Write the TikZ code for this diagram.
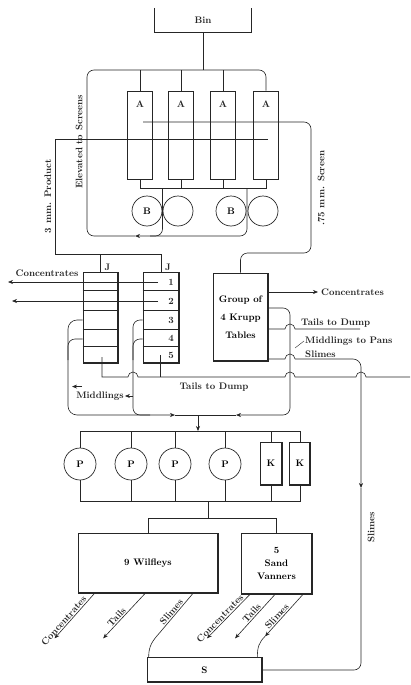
\documentclass[tikz,border=0pt]{standalone}
\usepackage{tikz}
\usetikzlibrary{arrows.meta,positioning,calc}
\definecolor{MillInk}{HTML}{262626}
\newcommand\millfont{\fontsize{9.5}{11}\selectfont\bfseries}
\tikzset{
  tank/.style={minimum width=97pt, minimum height=24pt, font=\millfont, text=MillInk},
  screen/.style={draw=MillInk, line width=0.8pt, minimum width=25pt, minimum height=88pt},
  roll/.style={circle, draw=MillInk, line width=0.7pt, minimum size=30pt, inner sep=0pt,
    font=\millfont},
  pan/.style={circle, draw=MillInk, line width=0.7pt, minimum size=32pt, inner sep=0pt,
    font=\millfont},
  unit/.style={draw=MillInk, line width=0.7pt, align=center, font=\millfont,
    path picture={\draw[MillInk, line width=2.2pt] (path picture bounding box.north east)
      -- (path picture bounding box.south east) -- (path picture bounding box.south west);}},
  jig/.style={unit, minimum width=35pt, minimum height=91pt},
  pipe/.style={draw=MillInk, line width=0.6pt},
  roundpipe/.style={pipe, rounded corners=7pt},
  flow/.style={pipe, -{Stealth[length=5pt, width=4pt]}},
  lbl/.style={font=\millfont, inner sep=1pt, text=MillInk}
}

\begin{document}
\begin{tikzpicture}[x=1pt, y=-1pt]
  \useasboundingbox (0,0) rectangle (410,685);

  % bin, screens and rolls
  \node[tank] (bin) at (203,20) {Bin};
  \draw[pipe] (bin.north west) |- (bin.south east) -- (bin.north east);
  \foreach \n/\x in {1/140,2/181,3/223,4/266}
    \node[screen, label={[lbl, anchor=north, yshift=-9pt]north:A}] (a\n) at (\x,135) {};
  \node[roll] (b1) at (147,211) {B};
  \node[roll] (b2) at (178,211) {};
  \node[roll] (b3) at (231,211) {B};
  \node[roll] (b4) at (263,211) {};

  \coordinate (feed) at (203,70);
  \coordinate (drop1) at (162.5,188);
  \coordinate (drop2) at (247,188);
  \coordinate (elev) at (135,236);
  \draw[pipe] (bin.south) -- (feed);
  \foreach \n in {1,2,3}
    \draw[pipe] (a\n.north) -- (a\n.north |- feed);
  \draw[pipe] (a1.south) |- (a4.south |- drop1) -- (a4.south);
  \draw[pipe] (a2.south) -- (a2.south |- drop1);
  \draw[pipe] (a3.south) -- (a3.south |- drop1);
  \draw[roundpipe] (drop1) -- (162.5,236) -- (150,236);
  \draw[flow, rounded corners=7pt] (drop2) -- (247,236) -- (elev);
  \draw[roundpipe] (elev) -- (87,236) -- (87,70) -- (266,70) -- (a4.north);
  \node[lbl, rotate=90] (lelev) at (79,142) {Elevated to Screens};

  % jigs and krupp tables
  \node[jig] (j1) at (100.5,317.5) {};
  \node[jig, minimum width=36pt] (j2) at (161,317.5) {};
  \node[lbl, above right=0pt and 3pt of j1.north] {J};
  \node[lbl, above right=0pt and 3pt of j2.north] {J};
  \foreach \j in {j1,j2}
    \foreach \y in {290,310,329,346}
      \draw[pipe] (\j.west |- 0,\y) -- (\j.east |- 0,\y);
  \foreach \n/\y in {1/282,2/301,3/320,4/338,5/355}
    \node[lbl] (num\n) at (171,\y) {\n};
  \node[unit, minimum width=55pt, minimum height=88pt] (krupp) at (240.5,317)
    {Group of\\[7pt]4 Krupp\\[7pt]Tables};

  \coordinate (under) at (268,139);
  \draw[pipe] (under) -- (55,139) -- (55,254) -| (j2.north);
  \draw[pipe] (j1.north) -- (j1.north |- 0,254);
  \node[lbl, rotate=90] (lprod) at (48,196) {3 mm. Product};

  \coordinate (fine) at (143,122);
  \draw[roundpipe] (fine) -- (311,122) -- (311,253) -- (krupp.north |- 0,253) -- (krupp.north);
  \node[lbl, rotate=90] (lfine) at (321,188) {.75 mm. Screen};

  % jig products
  \coordinate (jc1) at (158,282);
  \coordinate (jc2) at (158,301);
  \draw[flow] (jc1) -- (8,282);
  \draw[flow] (jc2) -- (12,301);
  \node[lbl] (jconc) at (47,273) {Concentrates};

  \coordinate (mid) at (175,415);
  \coordinate (mdrop) at (198,415);
  \coordinate (km) at (236,415);
  \draw[flow, rounded corners=9pt] (j1.west |- 0,320) -- (68,320) -- (68,415) -- (mid);
  \draw[roundpipe] (j1.west |- 0,339) -- (68,339) -- (68,360);
  \draw[roundpipe] (j2.west |- 0,320) -- (133,320) -- (133,415) -- (150,415);
  \draw[roundpipe] (j2.west |- 0,339) -- (133,339) -- (133,360);
  \draw[pipe] (mid) -- (km);
  \node[lbl] (lmid) at (100,396) {Middlings};
  \coordinate (mj) at (133,396);
  \draw[flow] (mj) -- (lmid.east);
  \draw[flow] ([shift={(7pt,4pt)}]lmid.north west) -- ++(-10,0);

  \coordinate (j1t) at (102,357);
  \coordinate (j2t) at (160,355);
  \coordinate (dump) at (410,377);
  \draw[pipe] (j1t) |- (128,377) arc[start angle=180, end angle=0, radius=5pt]
    -- (285,377) arc[start angle=180, end angle=0, radius=5pt]
    -- (356,377) arc[start angle=180, end angle=0, radius=5pt] -- (dump);
  \draw[pipe] (j2t) -- (j2t |- dump);
  \node[lbl] (ldump) at (214,387) {Tails to Dump};

  % krupp products
  \coordinate (kc) at (318,292);
  \draw[flow] (krupp.east |- kc) -- (kc);
  \node[lbl, right=2pt of kc] (lkc) {Concentrates};
  \coordinate (kt) at (360,329);
  \draw[pipe] (krupp.east |- kt) -- (285,329) arc[start angle=180, end angle=0, radius=5pt] -- (kt);
  \node[lbl, anchor=south west] (lkt) at (300,329) {Tails to Dump};
  \draw[flow, rounded corners=7pt] (krupp.east |- 0,308) -- (290,308) -- (290,415) -- (km);
  \node[lbl, anchor=west] (lkm) at (304,341) {Middlings to Pans};
  \node[lbl, anchor=west] (lks) at (304,354) {Slimes};
  \draw[pipe, line width=0.4pt] (lkm.west) -- ++(-9,7);

  \coordinate (ks) at (295,359);
  \coordinate (sa) at (361,488);
  \draw[pipe] (krupp.east |- ks) -- (285,359) arc[start angle=180, end angle=0, radius=5pt];
  \draw[flow, rounded corners=8pt] (ks) -- (361,359) -- (sa);
  \node[lbl, rotate=90] (lsl) at (371,527) {Slimes};

  % pans and classifiers
  \coordinate (pk) at (198,431);
  \coordinate (pc) at (208,501);
  \draw[flow] (mdrop) -- (pk);
  \foreach \n/\x in {1/80,2/131,3/175,4/225}
    \node[pan] (p\n) at (\x,464) {P};
  \node[unit, minimum width=22pt, minimum height=43pt] (k1) at (271,463.5) {K};
  \node[unit, minimum width=21pt, minimum height=43pt] (k2) at (300,463.5) {K};
  \draw[pipe] (p1.north) |- (k2.north |- pk) -- (k2.north);
  \draw[pipe] (p1.south) |- (k2.south |- pc) -- (k2.south);
  \foreach \p in {p2,p3,p4,k1} {
    \draw[pipe] (\p.north) -- (\p.north |- pk);
    \draw[pipe] (\p.south) -- (\p.south |- pc);
  }

  % wilfleys, vanners and settler
  \node[unit, minimum width=140pt, minimum height=60pt] (wil) at (148,563) {9 Wilfleys};
  \node[unit, minimum width=71pt, minimum height=61pt] (van) at (276.5,563.5)
    {5\\[2pt]Sand\\[2pt]Vanners};
  \node[unit, minimum width=115pt, minimum height=25pt] (s) at (204.5,670) {S};
  \draw[pipe] (wil.north) -- ++(0,-14) coordinate (wtop) -| (van.north);
  \draw[pipe] (pc) -- (pc |- wtop);

  \draw[flow] ($(wil.south west)!0.12!(wil.south east)$) --
    node[lbl, pos=0.68, sloped, above] {Concentrates} ++(-40,45);
  \draw[flow] ($(wil.south west)!0.48!(wil.south east)$) --
    node[lbl, pos=0.6, sloped, above] {Tails} ++(-42,45);
  \draw[pipe] ($(wil.south west)!0.82!(wil.south east)$) --
    node[lbl, pos=0.55, sloped, above] {Slimes} ++(-33,39) coordinate (wsl);
  \draw[flow] ($(van.south west)!0.13!(van.south east)$) --
    node[lbl, pos=0.62, sloped, above] {Concentrates} ++(-43,44);
  \draw[flow] ($(van.south west)!0.48!(van.south east)$) --
    node[lbl, pos=0.5, sloped, above] {Tails} ++(-40,44);
  \draw[flow] ($(van.south west)!0.87!(van.south east)$) --
    node[lbl, pos=0.6, sloped, above] {Slimes} ++(-38,42) coordinate (vsl);

  \coordinate (sin1) at ([xshift=2pt]s.north west);
  \coordinate (sin2) at ([xshift=-5pt]s.north east);
  \draw[pipe] (wsl) .. controls +(-7,8) and +(0,-12) .. (sin1);
  \draw[pipe] (vsl) .. controls +(-6,6) and +(0,-10) .. (sin2);
  \draw[roundpipe] (sa) -- (361,670) -- (s.east);
\end{tikzpicture}
\end{document}
